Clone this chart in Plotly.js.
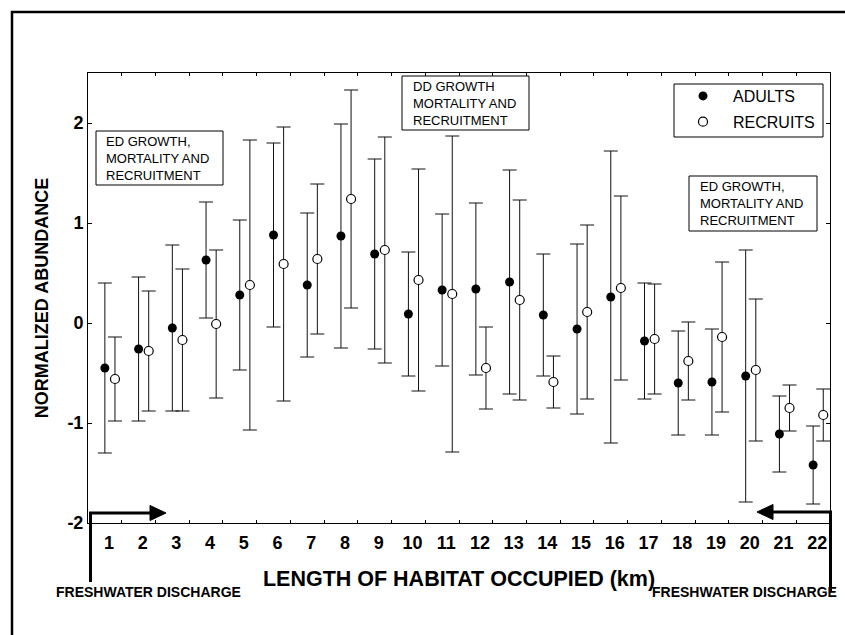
<!DOCTYPE html>
<html>
<head>
<meta charset="utf-8">
<script src="https://cdn.plot.ly/plotly-3.0.1.min.js"></script>
<style>
  html, body { margin: 0; padding: 0; background: #fff; overflow: hidden; }
  #chart { width: 845px; height: 635px; }
</style>
</head>
<body>
<div id="chart"></div>
<script>
// Habitat segment (km) along the estuary
const km = [1, 2, 3, 4, 5, 6, 7, 8, 9, 10, 11, 12, 13, 14, 15, 16, 17, 18, 19, 20, 21, 22];

// Normalized abundance of adults: mean and one standard deviation
const adultMean = [-0.45, -0.26, -0.05, 0.63, 0.28, 0.88, 0.38, 0.87, 0.69, 0.09, 0.33,
                   0.34, 0.41, 0.08, -0.06, 0.26, -0.18, -0.60, -0.59, -0.53, -1.11, -1.42];
const adultSD   = [0.85, 0.72, 0.83, 0.58, 0.75, 0.92, 0.72, 1.12, 0.95, 0.62, 0.76,
                   0.86, 1.12, 0.61, 0.85, 1.46, 0.58, 0.52, 0.53, 1.26, 0.38, 0.39];

// Normalized abundance of recruits: mean and one standard deviation
const recruitMean = [-0.56, -0.28, -0.17, -0.01, 0.38, 0.59, 0.64, 1.24, 0.73, 0.43, 0.29,
                     -0.45, 0.23, -0.59, 0.11, 0.35, -0.16, -0.38, -0.14, -0.47, -0.85, -0.92];
const recruitSD   = [0.42, 0.60, 0.71, 0.74, 1.45, 1.37, 0.75, 1.09, 1.13, 1.11, 1.58,
                     0.41, 1.00, 0.26, 0.87, 0.92, 0.55, 0.39, 0.75, 0.71, 0.23, 0.26];

const yTickVals = [-2, -1, 0, 1, 2];
const yTickText = ['-2', '-1', '0', '1', '2'];

// Plot-area geometry in pixels
const W = 845, H = 635, L = 88, R = 830, T = 73, B = 523;
const px = x => (x - L) / (R - L);
const py = y => (B - y) / (B - T);

const FONT = 'Arial, "Liberation Sans", Helvetica, sans-serif';

const adults = {
  x: km.map(k => k - 0.5),
  y: adultMean,
  name: 'ADULTS',
  legendgroup: 'a',
  type: 'scatter',
  mode: 'markers',
  marker: { symbol: 'circle', size: 9, color: '#000' },
  error_y: { type: 'data', array: adultSD, visible: true, color: '#111', thickness: 1, width: 7 },
  hoverinfo: 'skip'
};

const recruits = {
  x: km.map(k => k - 0.2),
  y: recruitMean,
  name: 'RECRUITS',
  legendgroup: 'b',
  type: 'scatter',
  mode: 'markers',
  marker: { symbol: 'circle', size: 9, color: '#fff', line: { color: '#000', width: 1.2 } },
  error_y: { type: 'data', array: recruitSD, visible: true, color: '#111', thickness: 1, width: 7 },
  hoverinfo: 'skip'
};

// Empty trace that carries the segment labels on the overlaid x axis
const labelAxis = {
  x: [0, 22], y: [null, null], xaxis: 'x2', yaxis: 'y',
  type: 'scatter', mode: 'markers', showlegend: false, hoverinfo: 'skip'
};

function boxShape(x0, y0, x1, y1, fill) {
  return { type: 'rect', xref: 'paper', yref: 'paper', layer: 'above',
           x0: px(x0), x1: px(x1), y0: py(y1), y1: py(y0),
           line: { color: '#000', width: 1 }, fillcolor: fill };
}

function boxText(text, x, yc) {
  return { text: text, xref: 'paper', yref: 'paper', x: px(x), y: py(yc),
           xanchor: 'left', yanchor: 'middle', align: 'left', showarrow: false,
           font: { family: FONT, size: 13, color: '#000' } };
}

function pathShape(d, width, fill) {
  const s = { type: 'path', xref: 'paper', yref: 'paper', layer: 'above',
              path: d, line: { color: '#000', width: width } };
  if (fill) s.fillcolor = fill;
  return s;
}

const shapes = [
  // outer figure frame (top and left edges)
  pathShape(`M ${px(12)} ${py(635)} L ${px(12)} ${py(12)} L ${px(845)} ${py(12)}`, 2.5),
  // annotation boxes and legend frame
  boxShape(96, 131, 223, 185, '#fff'),
  boxShape(402, 76, 529, 130, '#fff'),
  boxShape(689, 176, 817, 231, '#fff'),
  boxShape(674, 84, 823, 137, 'rgba(0,0,0,0)'),
  // freshwater discharge arrow, left end
  pathShape(`M ${px(90.5)} ${py(582)} L ${px(90.5)} ${py(513)} L ${px(152)} ${py(513)}`, 3),
  pathShape(`M ${px(150)} ${py(505.5)} L ${px(166)} ${py(513)} L ${px(150)} ${py(520.5)} Z`, 1, '#000'),
  // freshwater discharge arrow, right end
  pathShape(`M ${px(830.5)} ${py(592)} L ${px(830.5)} ${py(512)} L ${px(771)} ${py(512)}`, 3),
  pathShape(`M ${px(773)} ${py(504.5)} L ${px(757)} ${py(512)} L ${px(773)} ${py(519.5)} Z`, 1, '#000')
];

const annotations = [
  boxText('ED GROWTH,<br>MORTALITY AND<br>RECRUITMENT', 104, 158),
  boxText('DD GROWTH<br>MORTALITY AND<br>RECRUITMENT', 411, 103),
  boxText('ED GROWTH,<br>MORTALITY AND<br>RECRUITMENT', 698, 203.5),
  { text: 'FRESHWATER DISCHARGE', xref: 'paper', yref: 'paper', x: px(148.5), y: py(592),
    xanchor: 'center', yanchor: 'middle', showarrow: false,
    font: { family: FONT, size: 14, color: '#000', weight: 700 } },
  { text: 'FRESHWATER DISCHARGE', xref: 'paper', yref: 'paper', x: px(744.5), y: py(592),
    xanchor: 'center', yanchor: 'middle', showarrow: false,
    font: { family: FONT, size: 14, color: '#000', weight: 700 } }
];

const layout = {
  width: W, height: H, autosize: false,
  margin: { l: L, r: W - R, t: T, b: H - B, pad: 0 },
  paper_bgcolor: '#fff', plot_bgcolor: '#fff',
  font: { family: FONT, color: '#000' },
  showlegend: true,
  legend: {
    x: px(673), y: py(79), xanchor: 'left', yanchor: 'top',
    bgcolor: 'rgba(0,0,0,0)', borderwidth: 0,
    font: { family: FONT, size: 16, color: '#000' },
    itemwidth: 50, traceorder: 'grouped', tracegroupgap: 2
  },
  xaxis: {
    range: [0, 22], tickmode: 'array', tickvals: km.map(k => k - 1).concat([22]),
    ticks: 'inside', ticklen: 3, tickcolor: '#000', tickwidth: 1,
    showticklabels: false, showline: true, linecolor: '#000', linewidth: 1,
    mirror: 'ticks', showgrid: false, zeroline: false, fixedrange: true
  },
  xaxis2: {
    overlaying: 'x', anchor: 'y', side: 'bottom', range: [0, 22],
    tickmode: 'array', tickvals: km.map(k => k - 0.38), ticktext: km.map(String),
    ticks: '', showline: false, showgrid: false, zeroline: false,
    tickfont: { family: FONT, size: 18, weight: 700 },
    ticklabelstandoff: 7,
    title: { text: 'LENGTH OF HABITAT OCCUPIED (km)', standoff: 18,
             font: { family: FONT, size: 21.5, weight: 700 } },
    fixedrange: true
  },
  yaxis: {
    range: [-2, 2.5], tickmode: 'array', tickvals: yTickVals, ticktext: yTickText,
    ticks: 'inside', ticklen: 4, tickcolor: '#000', tickwidth: 1,
    showline: true, linecolor: '#000', linewidth: 1, mirror: 'ticks',
    showgrid: false, zeroline: false,
    tickfont: { family: FONT, size: 18, weight: 700 },
    ticklabelstandoff: 0,
    title: { text: 'NORMALIZED ABUNDANCE', standoff: 14,
             font: { family: FONT, size: 18, weight: 700 } },
    fixedrange: true
  },
  shapes: shapes,
  annotations: annotations
};

Plotly.newPlot('chart', [adults, recruits, labelAxis], layout, { displayModeBar: false, staticPlot: true });
</script>
</body>
</html>
